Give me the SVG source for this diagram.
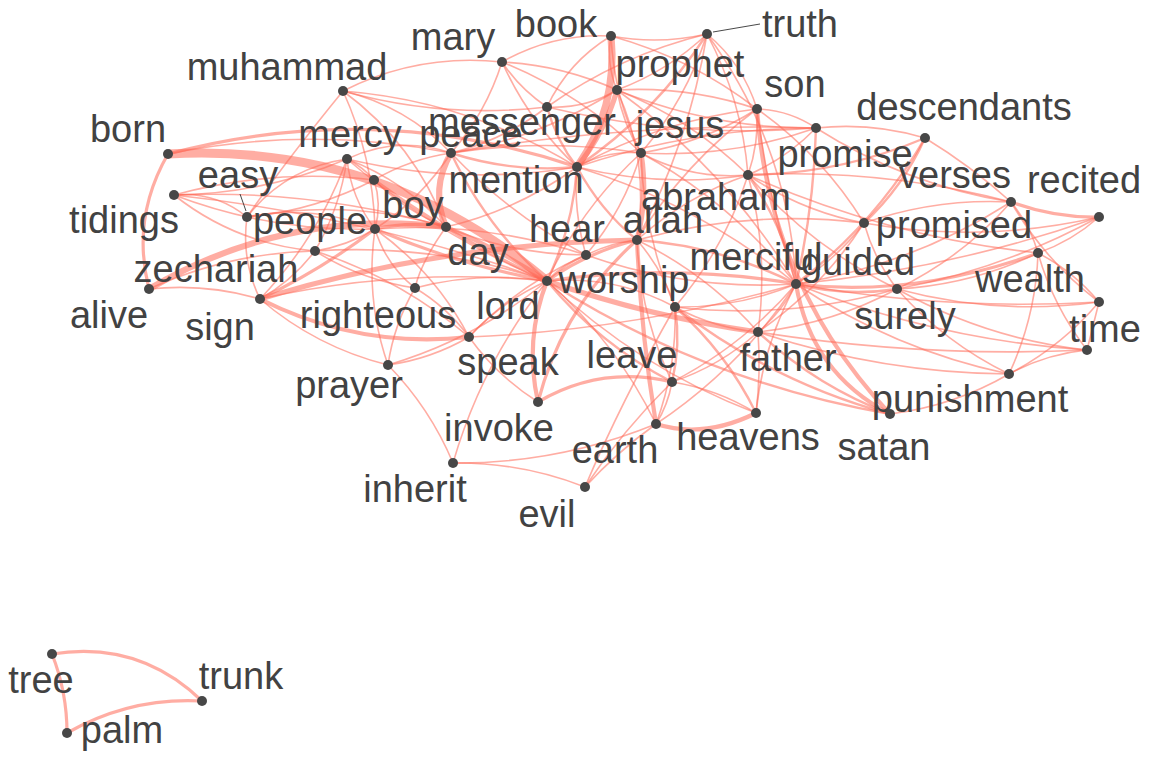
<svg xmlns="http://www.w3.org/2000/svg" width="1152" height="768" viewBox="0 0 1152 768">
<style>
.e{fill:none;stroke:#ff6a58;stroke-opacity:.55;stroke-linecap:round;stroke-width:1.6}
.w2{stroke-width:2.4}.w3{stroke-width:3.2}.w4{stroke-width:4.2}.w5{stroke-width:5.2}.w6{stroke-width:6.2}.w7{stroke-width:7.2}.w9{stroke-width:9}
.n{fill:#474747}
.t{font-family:"Liberation Sans",Arial,sans-serif;font-size:38px;fill:#424242;text-anchor:middle}
.ld{stroke:#333;stroke-width:.9;fill:none}
</style>
<rect width="1152" height="768" fill="#fff"/>
<g id="edges">
<path class="e w9" d="M168 154 Q383 142 547 281"/>
<path class="e w3" d="M168 154 Q374 99 577 167"/>
<path class="e w3" d="M168 154 Q131 218 149 289"/>
<path class="e w6" d="M149 289 Q287 208 446 227"/>
<path class="e w5" d="M260 299 Q444 243 637 240"/>
<path class="e w4" d="M260 299 Q359 349 469 337"/>
<path class="e w6" d="M451 153 Q430 189 446 227"/>
<path class="e w7" d="M611 36 Q618 108 577 167"/>
<path class="e w5" d="M617 90 Q605 132 577 167"/>
<path class="e w5" d="M641 153 Q648 197 637 240"/>
<path class="e w4" d="M637 240 Q641 333 656 424"/>
<path class="e w4" d="M796 284 Q811 373 890 414"/>
<path class="e w4" d="M757 109 Q769 285 890 414"/>
<path class="e w5" d="M547 281 Q650 317 758 332"/>
<path class="e w4" d="M538 402 Q524 340 547 281"/>
<path class="e w3" d="M538 402 Q563 306 637 240"/>
<path class="e w3" d="M538 402 Q601 365 672 382"/>
<path class="e w4" d="M656 424 Q704 439 756 413"/>
<path class="e w3" d="M1011 202 Q1054 218 1099 217"/>
<path class="e w3" d="M796 284 Q913 298 1038 253"/>
<path class="e w3" d="M52 654 Q67 692 67 733"/>
<path class="e w3" d="M52 654 Q139 640 202 701"/>
<path class="e w3" d="M67 733 Q130 697 202 701"/>
<path class="e w3" d="M374 180 Q455 239 547 281"/>
<path class="e w3" d="M375 229 Q321 270 260 299"/>
<path class="e w3" d="M375 229 Q458 265 547 281"/>
<path class="e w3" d="M375 229 Q410 221 446 227"/>
<path class="e" d="M174 195 Q215 191 247 217"/>
<path class="e" d="M174 195 Q271 232 375 229"/>
<path class="e" d="M174 195 Q313 189 446 227"/>
<path class="e" d="M174 195 Q273 168 374 180"/>
<path class="e" d="M174 195 Q264 194 347 159"/>
<path class="e" d="M174 195 Q366 216 547 281"/>
<path class="e" d="M174 195 Q236 244 315 251"/>
<path class="e" d="M247 217 Q285 168 347 159"/>
<path class="e" d="M247 217 Q285 162 343 91"/>
<path class="e" d="M247 217 Q313 204 375 229"/>
<path class="e" d="M247 217 Q348 198 446 227"/>
<path class="e" d="M247 217 Q314 211 374 180"/>
<path class="e" d="M247 217 Q241 260 260 299"/>
<path class="e" d="M347 159 Q363 167 374 180"/>
<path class="e" d="M347 159 Q351 198 375 229"/>
<path class="e" d="M347 159 Q340 208 315 251"/>
<path class="e" d="M347 159 Q405 181 446 227"/>
<path class="e" d="M347 159 Q437 236 547 281"/>
<path class="e" d="M347 159 Q398 135 451 153"/>
<path class="e" d="M347 159 Q461 186 577 167"/>
<path class="e" d="M347 159 Q318 238 260 299"/>
<path class="e" d="M343 91 Q418 53 502 62"/>
<path class="e" d="M343 91 Q443 119 547 107"/>
<path class="e" d="M343 91 Q406 106 451 153"/>
<path class="e" d="M343 91 Q373 157 375 229"/>
<path class="e" d="M343 91 Q469 101 577 167"/>
<path class="e" d="M343 91 Q415 144 446 227"/>
<path class="e" d="M374 180 Q382 204 375 229"/>
<path class="e" d="M374 180 Q405 211 446 227"/>
<path class="e" d="M374 180 Q410 159 451 153"/>
<path class="e" d="M375 229 Q347 246 315 251"/>
<path class="e" d="M375 229 Q386 265 415 288"/>
<path class="e" d="M375 229 Q435 272 469 337"/>
<path class="e" d="M375 229 Q365 299 388 365"/>
<path class="e" d="M375 229 Q483 221 586 255"/>
<path class="e" d="M315 251 Q292 281 260 299"/>
<path class="e" d="M315 251 Q434 243 547 281"/>
<path class="e" d="M315 251 Q361 280 415 288"/>
<path class="e" d="M315 251 Q401 279 469 337"/>
<path class="e" d="M415 288 Q421 262 446 227"/>
<path class="e" d="M415 288 Q480 271 547 281"/>
<path class="e" d="M415 288 Q447 307 469 337"/>
<path class="e" d="M260 299 Q402 267 547 281"/>
<path class="e" d="M260 299 Q316 347 388 365"/>
<path class="e" d="M260 299 Q206 283 149 289"/>
<path class="e" d="M469 337 Q431 359 388 365"/>
<path class="e" d="M469 337 Q502 301 547 281"/>
<path class="e" d="M469 337 Q636 330 796 284"/>
<path class="e" d="M469 337 Q519 284 586 255"/>
<path class="e" d="M388 365 Q430 408 453 463"/>
<path class="e" d="M388 365 Q476 339 547 281"/>
<path class="e" d="M388 365 Q394 324 415 288"/>
<path class="e" d="M453 463 Q521 462 585 487"/>
<path class="e" d="M453 463 Q558 464 656 424"/>
<path class="e" d="M453 463 Q482 363 547 281"/>
<path class="e" d="M585 487 Q617 452 656 424"/>
<path class="e" d="M585 487 Q621 402 675 307"/>
<path class="e" d="M585 487 Q623 430 672 382"/>
<path class="e w3" d="M547 281 Q588 252 637 240"/>
<path class="e w2" d="M547 281 Q564 264 586 255"/>
<path class="e w2" d="M547 281 Q573 227 577 167"/>
<path class="e w4" d="M547 281 Q499 249 446 227"/>
<path class="e w2" d="M547 281 Q486 227 451 153"/>
<path class="e w3" d="M547 281 Q672 263 796 284"/>
<path class="e" d="M547 281 Q615 275 675 307"/>
<path class="e w2" d="M547 281 Q599 344 672 382"/>
<path class="e" d="M547 281 Q638 368 756 413"/>
<path class="e" d="M547 281 Q616 342 656 424"/>
<path class="e" d="M547 281 Q581 208 641 153"/>
<path class="e w2" d="M547 281 Q705 382 890 414"/>
<path class="e" d="M637 240 Q613 242 586 255"/>
<path class="e w2" d="M637 240 Q600 210 577 167"/>
<path class="e" d="M637 240 Q663 270 675 307"/>
<path class="e w2" d="M637 240 Q721 246 796 284"/>
<path class="e" d="M637 240 Q686 196 748 175"/>
<path class="e" d="M637 240 Q640 315 672 382"/>
<path class="e" d="M637 240 Q749 209 864 223"/>
<path class="e" d="M637 240 Q684 163 757 109"/>
<path class="e" d="M637 240 Q707 274 758 332"/>
<path class="e" d="M586 255 Q573 210 577 167"/>
<path class="e" d="M586 255 Q513 255 446 227"/>
<path class="e w2" d="M577 167 Q513 173 451 153"/>
<path class="e w2" d="M577 167 Q556 140 547 107"/>
<path class="e" d="M577 167 Q607 150 641 153"/>
<path class="e" d="M577 167 Q662 188 748 175"/>
<path class="e" d="M577 167 Q693 128 816 128"/>
<path class="e" d="M577 167 Q698 204 796 284"/>
<path class="e" d="M577 167 Q661 120 757 109"/>
<path class="e" d="M577 167 Q518 210 446 227"/>
<path class="e w2" d="M577 167 Q655 114 707 34"/>
<path class="e" d="M547 107 Q568 62 611 36"/>
<path class="e" d="M547 107 Q585 109 617 90"/>
<path class="e" d="M547 107 Q520 89 502 62"/>
<path class="e" d="M547 107 Q620 55 707 34"/>
<path class="e" d="M547 107 Q680 139 816 128"/>
<path class="e" d="M547 107 Q504 140 451 153"/>
<path class="e" d="M502 62 Q529 122 577 167"/>
<path class="e" d="M502 62 Q486 113 451 153"/>
<path class="e" d="M502 62 Q562 65 617 90"/>
<path class="e" d="M502 62 Q581 94 641 153"/>
<path class="e" d="M502 62 Q553 33 611 36"/>
<path class="e" d="M611 36 Q659 45 707 34"/>
<path class="e" d="M611 36 Q606 64 617 90"/>
<path class="e" d="M611 36 Q614 98 641 153"/>
<path class="e" d="M611 36 Q691 58 757 109"/>
<path class="e" d="M707 34 Q668 71 617 90"/>
<path class="e" d="M707 34 Q686 100 641 153"/>
<path class="e" d="M707 34 Q742 100 748 175"/>
<path class="e" d="M707 34 Q743 64 757 109"/>
<path class="e" d="M707 34 Q789 146 796 284"/>
<path class="e" d="M707 34 Q689 143 637 240"/>
<path class="e" d="M617 90 Q689 86 757 109"/>
<path class="e" d="M617 90 Q713 129 816 128"/>
<path class="e" d="M617 90 Q623 124 641 153"/>
<path class="e" d="M617 90 Q691 119 748 175"/>
<path class="e" d="M617 90 Q540 138 451 153"/>
<path class="e" d="M617 90 Q650 162 637 240"/>
<path class="e" d="M617 90 Q726 169 796 284"/>
<path class="e" d="M757 109 Q789 110 816 128"/>
<path class="e" d="M757 109 Q759 143 748 175"/>
<path class="e" d="M757 109 Q703 143 641 153"/>
<path class="e" d="M757 109 Q768 198 796 284"/>
<path class="e" d="M757 109 Q822 155 864 223"/>
<path class="e w2" d="M816 128 Q814 207 796 284"/>
<path class="e" d="M816 128 Q787 158 748 175"/>
<path class="e" d="M816 128 Q731 158 641 153"/>
<path class="e" d="M816 128 Q632 122 451 153"/>
<path class="e" d="M816 128 Q872 122 925 138"/>
<path class="e" d="M816 128 Q906 185 1011 202"/>
<path class="e w2" d="M748 175 Q783 225 796 284"/>
<path class="e" d="M748 175 Q801 211 864 223"/>
<path class="e" d="M748 175 Q811 247 897 289"/>
<path class="e" d="M748 175 Q887 237 1038 253"/>
<path class="e" d="M748 175 Q769 253 758 332"/>
<path class="e" d="M748 175 Q691 180 641 153"/>
<path class="e" d="M748 175 Q882 168 1011 202"/>
<path class="e" d="M748 175 Q725 248 675 307"/>
<path class="e" d="M641 153 Q643 233 675 307"/>
<path class="e" d="M641 153 Q732 203 796 284"/>
<path class="e" d="M641 153 Q546 138 451 153"/>
<path class="e w2" d="M925 138 Q903 187 864 223"/>
<path class="e w2" d="M925 138 Q875 224 796 284"/>
<path class="e w2" d="M925 138 Q840 174 748 175"/>
<path class="e" d="M925 138 Q971 166 1011 202"/>
<path class="e" d="M1011 202 Q912 265 796 284"/>
<path class="e" d="M1011 202 Q963 257 897 289"/>
<path class="e" d="M1011 202 Q935 198 864 223"/>
<path class="e" d="M1011 202 Q1030 225 1038 253"/>
<path class="e" d="M1011 202 Q1045 261 1099 302"/>
<path class="e" d="M1099 217 Q1072 241 1038 253"/>
<path class="e" d="M1099 217 Q1004 269 897 289"/>
<path class="e" d="M1099 217 Q952 269 796 284"/>
<path class="e" d="M1099 217 Q982 244 864 223"/>
<path class="e" d="M1038 253 Q971 285 897 289"/>
<path class="e" d="M1038 253 Q1073 271 1099 302"/>
<path class="e" d="M1038 253 Q1053 306 1087 350"/>
<path class="e" d="M1038 253 Q1036 316 1009 374"/>
<path class="e" d="M1099 302 Q997 316 897 289"/>
<path class="e" d="M1099 302 Q946 311 796 284"/>
<path class="e" d="M1099 302 Q1093 326 1087 350"/>
<path class="e" d="M1099 302 Q1061 347 1009 374"/>
<path class="e" d="M1087 350 Q986 339 897 289"/>
<path class="e" d="M1087 350 Q936 340 796 284"/>
<path class="e" d="M1087 350 Q922 358 758 332"/>
<path class="e" d="M1087 350 Q1046 354 1009 374"/>
<path class="e" d="M1009 374 Q945 343 897 289"/>
<path class="e" d="M1009 374 Q894 350 796 284"/>
<path class="e" d="M1009 374 Q954 406 890 414"/>
<path class="e" d="M1009 374 Q880 373 758 332"/>
<path class="e w2" d="M890 414 Q816 386 758 332"/>
<path class="e w2" d="M890 414 Q772 382 675 307"/>
<path class="e w2" d="M897 289 Q846 297 796 284"/>
<path class="e" d="M897 289 Q874 259 864 223"/>
<path class="e" d="M897 289 Q832 324 758 332"/>
<path class="e" d="M897 289 Q788 320 675 307"/>
<path class="e" d="M864 223 Q836 260 796 284"/>
<path class="e" d="M864 223 Q822 288 758 332"/>
<path class="e" d="M796 284 Q782 312 758 332"/>
<path class="e" d="M796 284 Q738 308 675 307"/>
<path class="e" d="M796 284 Q744 345 672 382"/>
<path class="e" d="M796 284 Q763 345 756 413"/>
<path class="e" d="M796 284 Q740 368 656 424"/>
<path class="e" d="M796 284 Q688 291 586 255"/>
<path class="e" d="M758 332 Q714 328 675 307"/>
<path class="e" d="M758 332 Q761 373 756 413"/>
<path class="e" d="M758 332 Q720 366 672 382"/>
<path class="e w2" d="M675 307 Q681 345 672 382"/>
<path class="e w2" d="M675 307 Q726 352 756 413"/>
<path class="e" d="M675 307 Q677 367 656 424"/>
<path class="e" d="M672 382 Q717 389 756 413"/>
<path class="e" d="M672 382 Q668 405 656 424"/>
<path class="e" d="M538 402 Q497 376 469 337"/>
<path class="e" d="M586 255 Q624 210 641 153"/>
<path class="e" d="M451 153 Q421 199 375 229"/>
<path class="e" d="M451 153 Q510 215 586 255"/>
<path class="e" d="M168 154 Q309 125 451 153"/>
<path class="e" d="M149 289 Q228 253 315 251"/>
</g>
<g id="leaders">
<path class="ld" d="M713 32 L760 24"/>
<path class="ld" d="M240 194 L246 211"/>
</g>
<g id="node-truth"><circle class="n" cx="707" cy="34" r="5"/><text class="t" x="800" y="37">truth</text></g>
<g id="node-mary"><circle class="n" cx="502" cy="62" r="5"/><text class="t" x="453" y="50">mary</text></g>
<g id="node-book"><circle class="n" cx="611" cy="36" r="5"/><text class="t" x="556" y="37">book</text></g>
<g id="node-prophet"><circle class="n" cx="617" cy="90" r="5"/><text class="t" x="680" y="77">prophet</text></g>
<g id="node-muhammad"><circle class="n" cx="343" cy="91" r="5"/><text class="t" x="287" y="80">muhammad</text></g>
<g id="node-son"><circle class="n" cx="757" cy="109" r="5"/><text class="t" x="795" y="97">son</text></g>
<g id="node-messenger"><circle class="n" cx="547" cy="107" r="5"/><text class="t" x="522" y="135">messenger</text></g>
<g id="node-jesus"><circle class="n" cx="641" cy="153" r="5"/><text class="t" x="680" y="138">jesus</text></g>
<g id="node-descendants"><circle class="n" cx="925" cy="138" r="5"/><text class="t" x="964" y="120">descendants</text></g>
<g id="node-born"><circle class="n" cx="168" cy="154" r="5"/><text class="t" x="128" y="142">born</text></g>
<g id="node-mercy"><circle class="n" cx="347" cy="159" r="5"/><text class="t" x="350" y="147">mercy</text></g>
<g id="node-peace"><circle class="n" cx="451" cy="153" r="5"/><text class="t" x="471" y="147">peace</text></g>
<g id="node-promise"><circle class="n" cx="816" cy="128" r="5"/><text class="t" x="845" y="167">promise</text></g>
<g id="node-mention"><circle class="n" cx="577" cy="167" r="5"/><text class="t" x="516" y="193">mention</text></g>
<g id="node-verses"><circle class="n" cx="1011" cy="202" r="5"/><text class="t" x="955" y="188">verses</text></g>
<g id="node-recited"><circle class="n" cx="1099" cy="217" r="5"/><text class="t" x="1084" y="193">recited</text></g>
<g id="node-easy"><circle class="n" cx="247" cy="217" r="5"/><text class="t" x="238" y="188">easy</text></g>
<g id="node-abraham"><circle class="n" cx="748" cy="175" r="5"/><text class="t" x="716" y="210">abraham</text></g>
<g id="node-tidings"><circle class="n" cx="174" cy="195" r="5"/><text class="t" x="124" y="233">tidings</text></g>
<g id="node-boy"><circle class="n" cx="374" cy="180" r="5"/><text class="t" x="413" y="218">boy</text></g>
<g id="node-people"><circle class="n" cx="375" cy="229" r="5"/><text class="t" x="310" y="234">people</text></g>
<g id="node-zechariah"><circle class="n" cx="315" cy="251" r="5"/><text class="t" x="216" y="282">zechariah</text></g>
<g id="node-day"><circle class="n" cx="446" cy="227" r="5"/><text class="t" x="478" y="265">day</text></g>
<g id="node-righteous"><circle class="n" cx="415" cy="288" r="5"/><text class="t" x="378" y="328">righteous</text></g>
<g id="node-allah"><circle class="n" cx="637" cy="240" r="5"/><text class="t" x="663" y="233">allah</text></g>
<g id="node-hear"><circle class="n" cx="586" cy="255" r="5"/><text class="t" x="567" y="242">hear</text></g>
<g id="node-promised"><circle class="n" cx="864" cy="223" r="5"/><text class="t" x="954" y="238">promised</text></g>
<g id="node-merciful"><circle class="n" cx="675" cy="307" r="5"/><text class="t" x="756" y="270">merciful</text></g>
<g id="node-guided"><circle class="n" cx="796" cy="284" r="5"/><text class="t" x="858" y="275">guided</text></g>
<g id="node-wealth"><circle class="n" cx="1038" cy="253" r="5"/><text class="t" x="1030" y="292">wealth</text></g>
<g id="node-worship"><circle class="n" cx="547" cy="281" r="5"/><text class="t" x="624" y="293">worship</text></g>
<g id="node-alive"><circle class="n" cx="149" cy="289" r="5"/><text class="t" x="109" y="328">alive</text></g>
<g id="node-sign"><circle class="n" cx="260" cy="299" r="5"/><text class="t" x="220" y="340">sign</text></g>
<g id="node-lord"><circle class="n" cx="469" cy="337" r="5"/><text class="t" x="508" y="319">lord</text></g>
<g id="node-surely"><circle class="n" cx="897" cy="289" r="5"/><text class="t" x="905" y="329">surely</text></g>
<g id="node-time"><circle class="n" cx="1099" cy="302" r="5"/><circle class="n" cx="1087" cy="350" r="5"/><text class="t" x="1105" y="342">time</text></g>
<g id="node-speak"><circle class="n" cx="538" cy="402" r="5"/><text class="t" x="508" y="375">speak</text></g>
<g id="node-leave"><circle class="n" cx="672" cy="382" r="5"/><text class="t" x="632" y="368">leave</text></g>
<g id="node-father"><circle class="n" cx="758" cy="332" r="5"/><text class="t" x="788" y="371">father</text></g>
<g id="node-prayer"><circle class="n" cx="388" cy="365" r="5"/><text class="t" x="349" y="398">prayer</text></g>
<g id="node-punishment"><circle class="n" cx="1009" cy="374" r="5"/><text class="t" x="970" y="412">punishment</text></g>
<g id="node-invoke"><text class="t" x="499" y="441">invoke</text></g>
<g id="node-heavens"><circle class="n" cx="756" cy="413" r="5"/><text class="t" x="748" y="450">heavens</text></g>
<g id="node-earth"><circle class="n" cx="656" cy="424" r="5"/><text class="t" x="615" y="463">earth</text></g>
<g id="node-satan"><circle class="n" cx="890" cy="414" r="5"/><text class="t" x="884" y="460">satan</text></g>
<g id="node-inherit"><circle class="n" cx="453" cy="463" r="5"/><text class="t" x="415" y="502">inherit</text></g>
<g id="node-evil"><circle class="n" cx="585" cy="487" r="5"/><text class="t" x="547" y="527">evil</text></g>
<g id="node-tree"><circle class="n" cx="52" cy="654" r="5"/><text class="t" x="41" y="693">tree</text></g>
<g id="node-trunk"><circle class="n" cx="202" cy="701" r="5"/><text class="t" x="241" y="689">trunk</text></g>
<g id="node-palm"><circle class="n" cx="67" cy="733" r="5"/><text class="t" x="122" y="743">palm</text></g>
</svg>
